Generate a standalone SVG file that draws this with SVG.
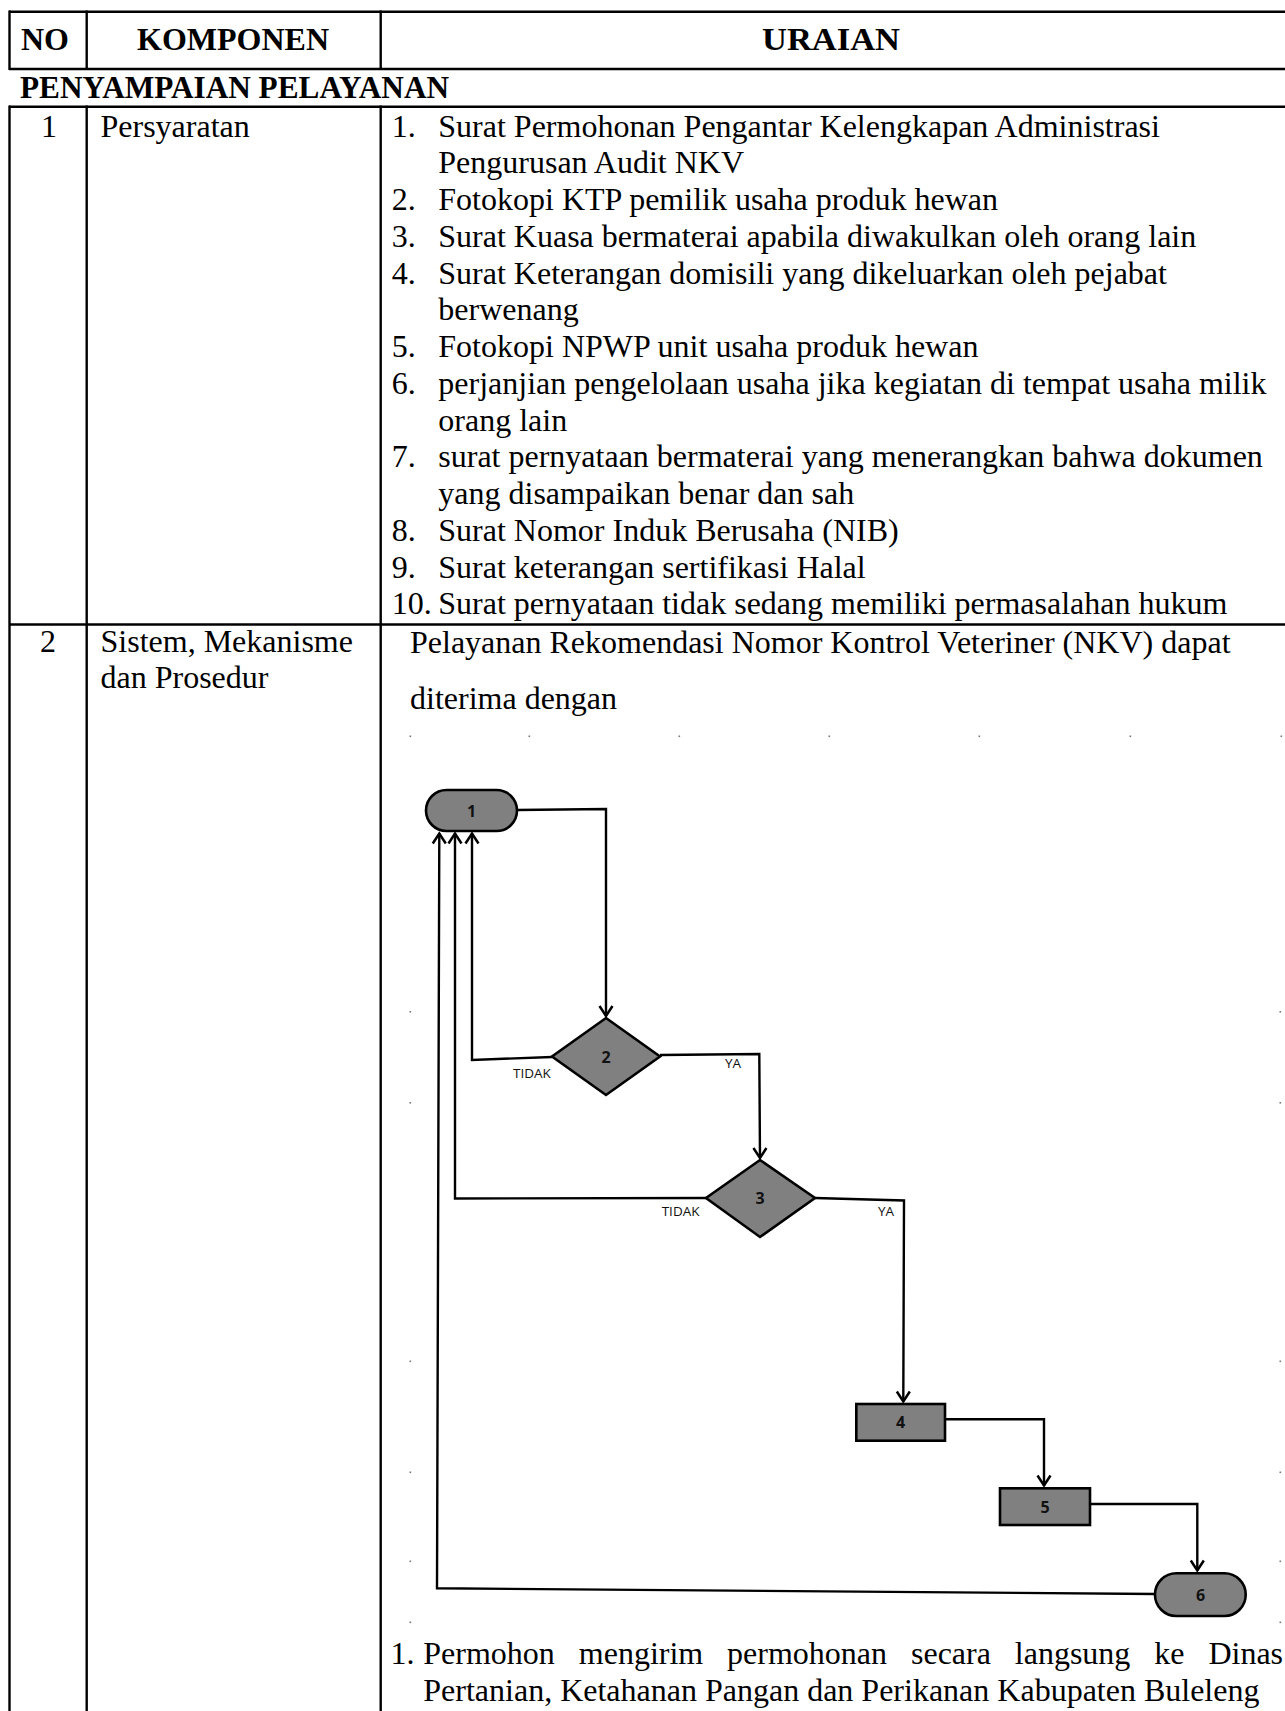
<svg xmlns="http://www.w3.org/2000/svg" width="1285" height="1711" viewBox="0 0 1285 1711">
<style>
.t{font-family:"Liberation Serif","Times New Roman",serif;font-size:32px;fill:#000}
.b{font-weight:bold}
.ln{stroke:#000;stroke-width:2.4;fill:none}
.node{fill:#808080;stroke:#000;stroke-width:2.6}
.lbl{font-family:"Open Sans","Liberation Sans",sans-serif;font-size:16px;font-weight:bold;fill:#111;text-anchor:middle}
.cap{font-family:"Open Sans","Liberation Sans",sans-serif;font-size:13.5px;fill:#111}
.conn path{stroke:#000;stroke-width:2.4;fill:none;marker-end:url(#arr)}
.dot{fill:#777}
</style>
<defs>
<marker id="arr" markerUnits="userSpaceOnUse" markerWidth="16" markerHeight="16" viewBox="-12 -8 14 16" refX="0" refY="0" orient="auto">
<path d="M-10,-6.5 L0,0 L-10,6.5" fill="none" stroke="#000" stroke-width="2.5"/>
</marker>
</defs>
<rect width="1285" height="1711" fill="#fff"/>

<g id="table-lines">
<line class="ln" x1="9" y1="11.7" x2="1290" y2="11.7"/>
<line class="ln" x1="9" y1="69" x2="1290" y2="69"/>
<line class="ln" x1="9" y1="106.7" x2="1290" y2="106.7"/>
<line class="ln" x1="9" y1="624.5" x2="1290" y2="624.5"/>
<line class="ln" x1="9.5" y1="10.5" x2="9.5" y2="70"/>
<line class="ln" x1="86.7" y1="10.5" x2="86.7" y2="70"/>
<line class="ln" x1="380.7" y1="10.5" x2="380.7" y2="70"/>
<line class="ln" x1="9.5" y1="105.5" x2="9.5" y2="1715"/>
<line class="ln" x1="86.7" y1="105.5" x2="86.7" y2="1715"/>
<line class="ln" x1="380.7" y1="105.5" x2="380.7" y2="1715"/>
</g>

<g id="header">
<text class="t b" x="45" y="50" text-anchor="middle">NO</text>
<text class="t b" x="233" y="50" text-anchor="middle">KOMPONEN</text>
<text class="t b" x="831" y="50" text-anchor="middle" textLength="138" lengthAdjust="spacingAndGlyphs">URAIAN</text>
<text class="t b" x="20" y="98.3" textLength="429" lengthAdjust="spacingAndGlyphs">PENYAMPAIAN PELAYANAN</text>
</g>

<g id="row1">
<text class="t" x="49" y="136.7" text-anchor="middle">1</text>
<text class="t" x="100.5" y="136.7">Persyaratan</text>
<text class="t" x="391.7" y="136.7">1.</text><text class="t" x="438.3" y="136.7">Surat Permohonan Pengantar Kelengkapan Administrasi</text>
<text class="t" x="438.3" y="173.45">Pengurusan Audit NKV</text>
<text class="t" x="391.7" y="210.2">2.</text><text class="t" x="438.3" y="210.2">Fotokopi KTP pemilik usaha produk hewan</text>
<text class="t" x="391.7" y="246.95">3.</text><text class="t" x="438.3" y="246.95">Surat Kuasa bermaterai apabila diwakulkan oleh orang lain</text>
<text class="t" x="391.7" y="283.7">4.</text><text class="t" x="438.3" y="283.7">Surat Keterangan domisili yang dikeluarkan oleh pejabat</text>
<text class="t" x="438.3" y="320.45">berwenang</text>
<text class="t" x="391.7" y="357.2">5.</text><text class="t" x="438.3" y="357.2">Fotokopi NPWP unit usaha produk hewan</text>
<text class="t" x="391.7" y="393.95">6.</text><text class="t" x="438.3" y="393.95">perjanjian pengelolaan usaha jika kegiatan di tempat usaha milik</text>
<text class="t" x="438.3" y="430.7">orang lain</text>
<text class="t" x="391.7" y="467.45">7.</text><text class="t" x="438.3" y="467.45">surat pernyataan bermaterai yang menerangkan bahwa dokumen</text>
<text class="t" x="438.3" y="504.2">yang disampaikan benar dan sah</text>
<text class="t" x="391.7" y="540.95">8.</text><text class="t" x="438.3" y="540.95">Surat Nomor Induk Berusaha (NIB)</text>
<text class="t" x="391.7" y="577.7">9.</text><text class="t" x="438.3" y="577.7">Surat keterangan sertifikasi Halal</text>
<text class="t" x="391.7" y="614.45">10.</text><text class="t" x="438.3" y="614.45">Surat pernyataan tidak sedang memiliki permasalahan hukum</text>
</g>

<g id="row2">
<text class="t" x="48" y="651.7" text-anchor="middle">2</text>
<text class="t" x="100.5" y="651.7">Sistem, Mekanisme</text>
<text class="t" x="100.5" y="688.3">dan Prosedur</text>
<text class="t" x="410" y="653">Pelayanan Rekomendasi Nomor Kontrol Veteriner (NKV) dapat</text>
<text class="t" x="410" y="709">diterima dengan</text>
<text class="t" x="390.5" y="1664">1.</text>
<text class="t" y="1664"><tspan x="423.3">Permohon</tspan><tspan x="578.8">mengirim</tspan><tspan x="727.1">permohonan</tspan><tspan x="911">secara</tspan><tspan x="1014.8">langsung</tspan><tspan x="1154.3">ke</tspan><tspan x="1208.4">Dinas</tspan></text>
<text class="t" x="423.3" y="1700.5">Pertanian, Ketahanan Pangan dan Perikanan Kabupaten Buleleng</text>
</g>

<g id="dots">
<rect class="dot" x="409.5" y="735.5" width="1.6" height="1.6"/>
<rect class="dot" x="528.5" y="735.5" width="1.6" height="1.6"/>
<rect class="dot" x="678.5" y="735.5" width="1.6" height="1.6"/>
<rect class="dot" x="828.5" y="735.5" width="1.6" height="1.6"/>
<rect class="dot" x="978.5" y="735.5" width="1.6" height="1.6"/>
<rect class="dot" x="1129.5" y="735.5" width="1.6" height="1.6"/>
<rect class="dot" x="1280.5" y="735.5" width="1.6" height="1.6"/>
<rect class="dot" x="409.5" y="1011" width="1.6" height="1.6"/>
<rect class="dot" x="1279.5" y="1011" width="1.6" height="1.6"/>
<rect class="dot" x="409.5" y="1102" width="1.6" height="1.6"/>
<rect class="dot" x="1279.5" y="1102" width="1.6" height="1.6"/>
<rect class="dot" x="409.5" y="1360.5" width="1.6" height="1.6"/>
<rect class="dot" x="1279.5" y="1360.5" width="1.6" height="1.6"/>
<rect class="dot" x="409.5" y="1471.5" width="1.6" height="1.6"/>
<rect class="dot" x="1279.5" y="1471.5" width="1.6" height="1.6"/>
<rect class="dot" x="409.5" y="1560.5" width="1.6" height="1.6"/>
<rect class="dot" x="1279.5" y="1560.5" width="1.6" height="1.6"/>
<rect class="dot" x="409.5" y="1621.5" width="1.6" height="1.6"/>
<rect class="dot" x="1279.5" y="1621.5" width="1.6" height="1.6"/>
</g>

<g id="connectors" class="conn">
<path d="M517,810 L606,809 L606,1016"/>
<path d="M552,1057 L472,1060 L472,833.5"/>
<path d="M660,1055 L759.3,1054 L760,1158"/>
<path d="M706.5,1198 L455,1198.5 L455,833.5"/>
<path d="M815,1198 L904,1200.5 L903.3,1401.5"/>
<path d="M945,1419.3 L1044,1419.3 L1044,1485.5"/>
<path d="M1090,1504 L1197.3,1504 L1197.3,1570.5"/>
<path d="M1155,1594 L437,1588.3 L439.3,833.5"/>
</g>

<g id="edge-labels">
<text class="cap" x="513" y="1078">TIDAK</text>
<text class="cap" x="725" y="1067.5">YA</text>
<text class="cap" x="661.7" y="1215.5">TIDAK</text>
<text class="cap" x="878" y="1216">YA</text>
</g>

<g id="n1"><rect class="node" x="426" y="790" width="91" height="41" rx="20.5"/><text class="lbl" x="471.5" y="816.5">1</text></g>
<g id="n2"><polygon class="node" points="606,1018 660,1056.5 606,1095 552,1056.5"/><text class="lbl" x="606" y="1062.5">2</text></g>
<g id="n3"><polygon class="node" points="760,1160 815,1198 760,1237 706,1198"/><text class="lbl" x="760" y="1204">3</text></g>
<g id="n4"><rect class="node" x="856.3" y="1404" width="88.7" height="36.7"/><text class="lbl" x="900.7" y="1428">4</text></g>
<g id="n5"><rect class="node" x="1000" y="1488.3" width="90" height="36.7"/><text class="lbl" x="1045" y="1512.5">5</text></g>
<g id="n6"><rect class="node" x="1155" y="1573.3" width="90.7" height="42.7" rx="21.3"/><text class="lbl" x="1200.5" y="1600.5">6</text></g>
</svg>
